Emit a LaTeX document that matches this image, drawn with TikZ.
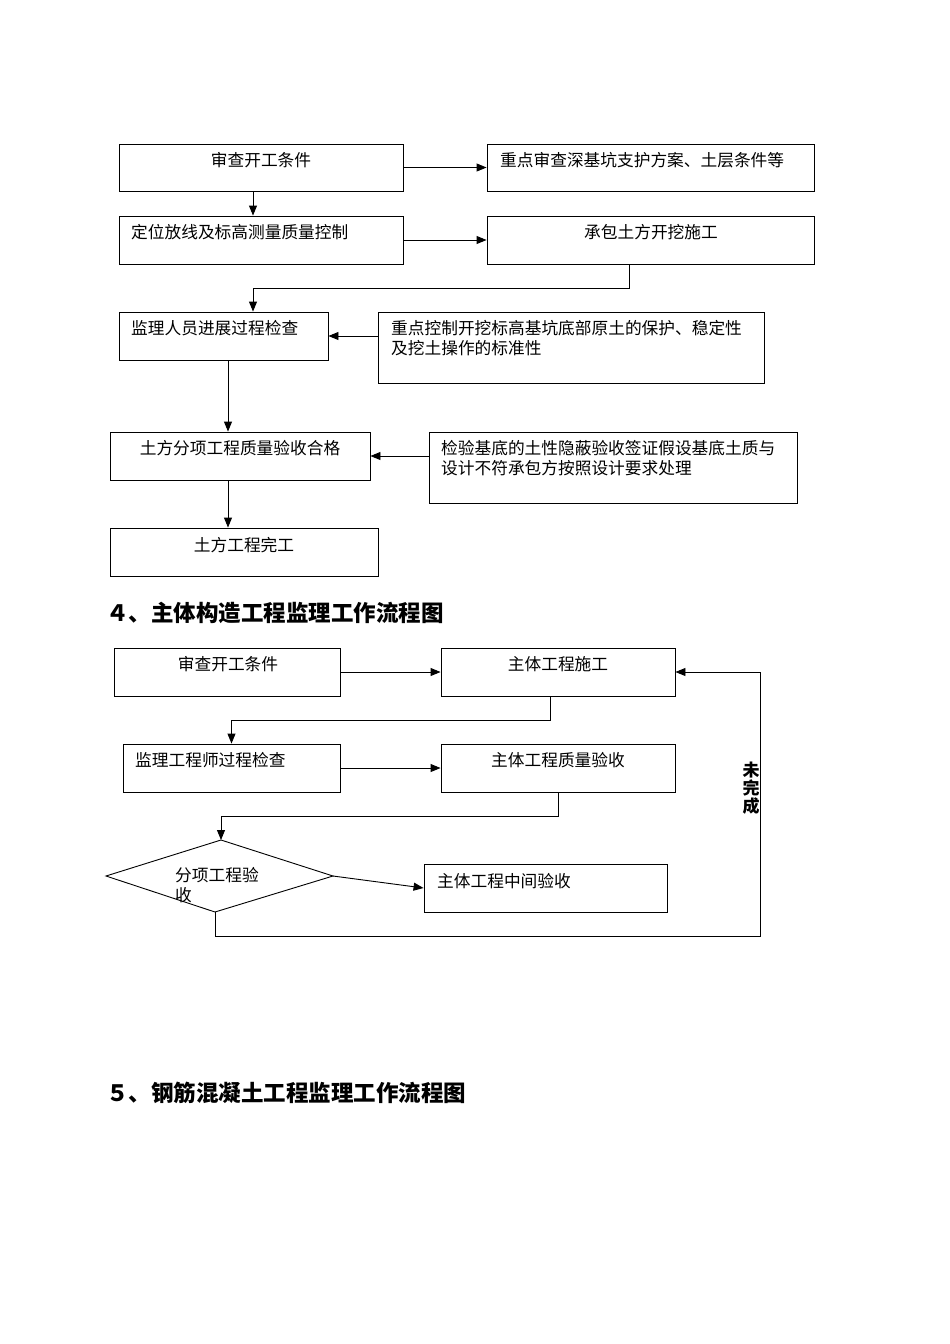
\documentclass[tikz,border=0pt]{standalone}
\usepackage{fontspec}
\usetikzlibrary{arrows.meta}
\newfontfamily\cjk{Noto Sans CJK SC}
\tikzset{
  box/.style={draw, line width=0.9pt, inner sep=0pt, rectangle},
  txt/.style={inner sep=0pt, font=\cjk\fontsize{16.7}{20}\selectfont},
  ttl/.style={inner sep=0pt, anchor=west, font=\cjk\bfseries\fontsize{22.5}{24}\selectfont},
  ln/.style={line width=0.9pt},
  arr/.style={line width=0.9pt, -{Triangle[length=10pt,width=8pt]}},
}
\begin{document}
\begin{tikzpicture}[x=1pt,y=1pt]
\useasboundingbox (0,0) rectangle (950,-1344);
% ---- section 1 ----
\node[box, minimum width=284, minimum height=47] (a) at (261,-167.5) {};
\node[box, minimum width=327, minimum height=47] (b) at (650.5,-167.5) {};
\node[box, minimum width=284, minimum height=48] (c) at (261,-240) {};
\node[box, minimum width=327, minimum height=48] (d) at (650.5,-240) {};
\node[box, minimum width=209, minimum height=48] (e) at (223.5,-336) {};
\node[box, minimum width=386, minimum height=71] (f) at (571,-347.5) {};
\node[box, minimum width=260, minimum height=48] (g) at (240,-456) {};
\node[box, minimum width=368, minimum height=71] (h) at (613,-467.5) {};
\node[box, minimum width=268, minimum height=48] (i) at (244,-552) {};

\node[txt] (at) at (261,-160) {审查开工条件};
\node[txt, anchor=west] (bt) at (500,-160) {重点审查深基坑支护方案、土层条件等};
\node[txt, anchor=west] (ct) at (131,-232) {定位放线及标高测量质量控制};
\node[txt] (dt) at (651,-232) {承包土方开挖施工};
\node[txt, anchor=west] (et) at (131,-328) {监理人员进展过程检查};
\node[txt, anchor=west, align=left] (ft) at (391,-338) {重点控制开挖标高基坑底部原土的保护、稳定性\\及挖土操作的标准性};
\node[txt] (gt) at (240,-448) {土方分项工程质量验收合格};
\node[txt, anchor=west, align=left] (ht) at (441,-458) {检验基底的土性隐蔽验收签证假设基底土质与\\设计不符承包方按照设计要求处理};
\node[txt] (it) at (244,-545) {土方工程完工};

\draw[arr] (a.east) -- (b.west);
\draw[arr] ([xshift=-8]a.south) -- ([xshift=-8]c.north);
\draw[arr] (c.east) -- (d.west);
\draw[arr] ([xshift=-21.5]d.south) -- ++(0,-24) -| ([xshift=29.5]e.north);
\draw[arr] (f.west |- e.east) -- (e.east);
\draw[arr] ([xshift=4.5]e.south) -- ([xshift=4.5]e.south |- g.north);
\draw[arr] (h.west |- g.east) -- (g.east);
\draw[arr] ([xshift=-12]g.south) -- ([xshift=-12]g.south |- i.north);

% ---- title 4 ----
\node[ttl] (t4) at (106,-613) {４、主体构造工程监理工作流程图};

% ---- section 2 ----
\node[box, minimum width=226, minimum height=48] (j) at (227,-672) {};
\node[box, minimum width=234, minimum height=48] (k) at (558,-672) {};
\node[box, minimum width=217, minimum height=48] (l) at (231.5,-768) {};
\node[box, minimum width=234, minimum height=48] (m) at (558,-768) {};
\node[box, minimum width=243, minimum height=48] (n) at (545.5,-888) {};
\coordinate (dtop) at (221,-840);
\coordinate (dright) at (333,-876);
\coordinate (dbot) at (215,-912);
\coordinate (dleft) at (106,-876);
\draw[ln] (dtop) -- (dright) -- (dbot) -- (dleft) -- cycle;
\coordinate (corner) at (760,-936);

\node[txt] (jt) at (228,-664) {审查开工条件};
\node[txt] (kt) at (558,-664) {主体工程施工};
\node[txt, anchor=west] (lt) at (135,-760) {监理工程师过程检查};
\node[txt] (mt) at (558,-760) {主体工程质量验收};
\node[txt, anchor=west, align=left] (pt) at (175,-885) {分项工程验\\收};
\node[txt, anchor=west] (nt) at (437,-881) {主体工程中间验收};
\node[inner sep=0pt, align=center, font=\cjk\bfseries\fontsize{17}{18}\selectfont] (wc) at (751,-788) {未\\完\\成};

\draw[arr] (j.east) -- (k.west);
\draw[arr] ([xshift=-8]k.south) -- ++(0,-24) -| (l.north);
\draw[arr] (l.east) -- (m.west);
\draw[arr] (m.south) -- ++(0,-24) -| (dtop);
\draw[arr] (dright) -- (n.west);
\draw[arr] (dbot) |- (corner) |- (k.east);

% ---- title 5 ----
\node[ttl] (t5) at (106,-1093) {５、钢筋混凝土工程监理工作流程图};
\end{tikzpicture}
\end{document}
